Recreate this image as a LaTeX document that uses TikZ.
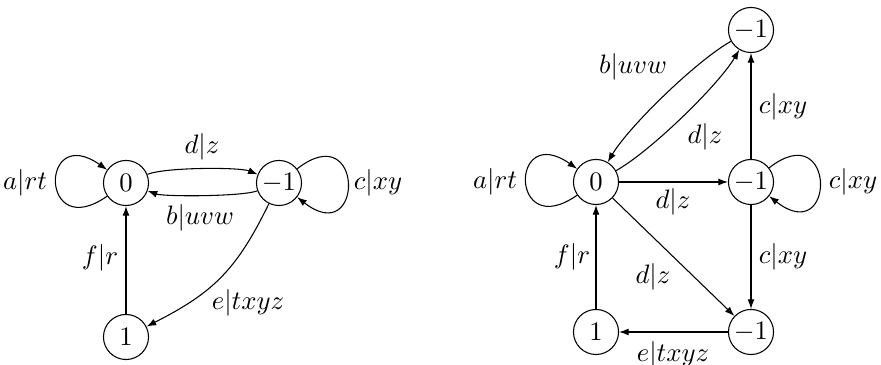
\documentclass[tikz,border=0pt]{standalone}
\usetikzlibrary{arrows.meta}
\begin{document}
\begin{tikzpicture}[x=0.375pt,y=0.375pt,
  state/.style={draw,circle,thin,minimum size=16.9pt,inner sep=0.5pt},
  lab/.style={inner sep=0pt},
  arr/.style={draw,thin,-{Latex[length=3.6pt,width=2.6pt]}},
  loopL/.style={out=215,in=145,distance=31pt},
  loopR/.style={out=38,in=-38,distance=32pt}]
\useasboundingbox (0,0) rectangle (881,365);
% left diagram
\node[state] (L0) at (126,182) {$0$};
\node[state] (Lm) at (279,182) {$-1$};
\node[state] (L1) at (126,28) {$1$};
\path[arr] (L0) to[loopL] (L0);
\path[arr] (Lm) to[loopR] (Lm);
\path[arr] (L0) to[bend left=22,looseness=0.45] (Lm);
\path[arr] (Lm) to[bend left=20,looseness=0.4] (L0);
\path[arr] (L1) -- (L0);
\path[arr] (Lm) to[out=244,in=27,looseness=1.1] (L1);
\node[lab] (la) at (25,182) {$a|rt$};
\node[lab] (ld) at (202,218) {$d|z$};
\node[lab] (lb) at (200,147) {$b|uvw$};
\node[lab] (lc) at (378,182) {$c|xy$};
\node[lab] (lf) at (100,107) {$f|r$};
\node[lab] (le) at (248,62) {$e|txyz$};
% right diagram
\node[state] (R0) at (596,183) {$0$};
\node[state] (Rt) at (751,335) {$-1$};
\node[state] (Rm) at (751,183) {$-1$};
\node[state] (Rb) at (751,33) {$-1$};
\node[state] (R1) at (596,33) {$1$};
\path[arr] (R0) to[loopL] (R0);
\path[arr] (Rm) to[loopR] (Rm);
\path[arr] (Rt) to[bend right=15,looseness=0.6] (R0);
\path[arr] (R0) to[bend right=15,looseness=0.6] (Rt);
\path[arr] (R0) -- (Rm);
\path[arr] (R0) -- (Rb);
\path[arr] (Rm) -- (Rt);
\path[arr] (Rm) -- (Rb);
\path[arr] (Rb) -- (R1);
\path[arr] (R1) -- (R0);
\node[lab] (ra) at (495,183) {$a|rt$};
\node[lab] (rb) at (633,298) {$b|uvw$};
\node[lab] (rd1) at (705,228) {$d|z$};
\node[lab] (rc1) at (783,258) {$c|xy$};
\node[lab] (rc2) at (853,183) {$c|xy$};
\node[lab] (rc3) at (783,108) {$c|xy$};
\node[lab] (rd2) at (673,163) {$d|z$};
\node[lab] (rd3) at (653,88) {$d|z$};
\node[lab] (re) at (673,10) {$e|txyz$};
\node[lab] (rf) at (572,108) {$f|r$};
\end{tikzpicture}
\end{document}
